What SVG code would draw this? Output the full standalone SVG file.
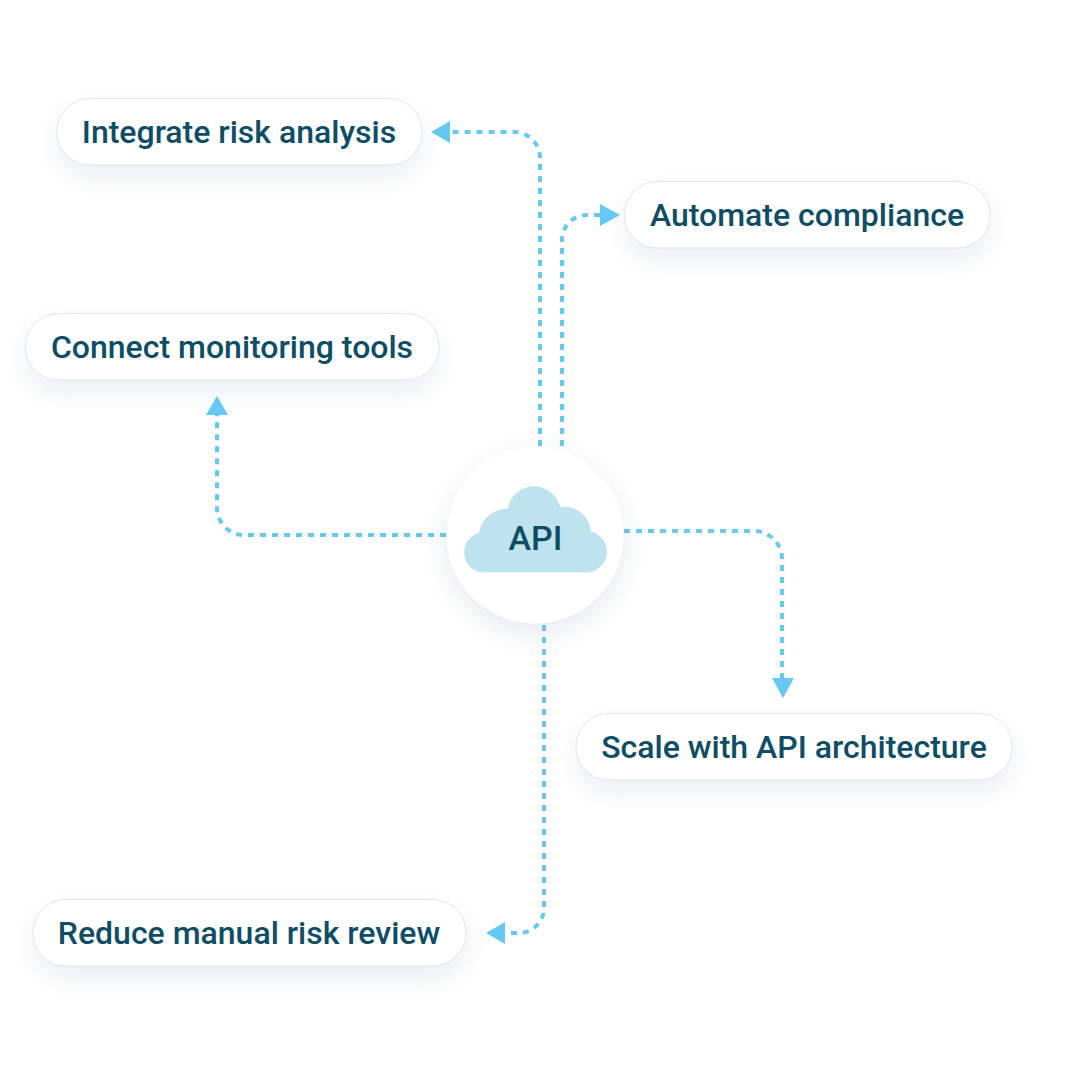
<svg xmlns="http://www.w3.org/2000/svg" width="1070" height="1070" viewBox="0 0 1070 1070">
<style>
.pill{fill:#fff;stroke:#dde5ee;stroke-width:1;filter:url(#sh)}
.t{font-family:Roboto,"Liberation Sans",sans-serif;font-weight:500;font-size:32px;fill:#0e4d64;text-anchor:middle}
.c{fill:none;stroke:#66c9f3;stroke-width:4;stroke-dasharray:6 6}
.a{fill:#66c9f3}
</style>
<defs>
<filter id="sh" x="-20%" y="-60%" width="140%" height="240%"><feDropShadow dx="0" dy="11" stdDeviation="13" flood-color="#8fa6c4" flood-opacity=".2"/></filter>
<filter id="shc" x="-30%" y="-30%" width="160%" height="160%"><feDropShadow dx="0" dy="9" stdDeviation="14" flood-color="#8fa6c4" flood-opacity=".25"/></filter>
</defs>
<rect width="1070" height="1070" fill="#fff"/>
<g id="connectors">
<path class="c" d="M540 446V158A26 26 0 0 0 514 132H450"/><polygon class="a" points="431,132 450,121 450,143"/>
<path class="c" d="M562 446V240A25 25 0 0 1 587 215H600"/><polygon class="a" points="620,215 600,204 600,226"/>
<path class="c" d="M446 535H244A27 27 0 0 1 217 508V415"/><polygon class="a" points="217,396 206,415 228,415"/>
<path class="c" d="M624 531H754A28 28 0 0 1 782 559V678"/><polygon class="a" points="783,698 772,678 794,678"/>
<path class="c" d="M544 625V908A25 25 0 0 1 519 933H505"/><polygon class="a" points="486,933 505,922 505,944"/>
</g>
<g id="n-integrate"><rect class="pill" x="57" y="98.500" width="365" height="66.500" rx="33"/><text class="t" x="239" y="143">Integrate risk analysis</text></g>
<g id="n-automate"><rect class="pill" x="624.500" y="181.500" width="365.500" height="66.500" rx="33"/><text class="t" x="807" y="226">Automate compliance</text></g>
<g id="n-connect"><rect class="pill" x="25.500" y="313.500" width="413.500" height="66.500" rx="33"/><text class="t" x="232" y="358">Connect monitoring tools</text></g>
<g id="n-scale"><rect class="pill" x="576" y="713.500" width="436" height="66.500" rx="33"/><text class="t" x="794" y="758">Scale with API architecture</text></g>
<g id="n-reduce"><rect class="pill" x="33" y="899.500" width="433" height="66.500" rx="33"/><text class="t" x="249" y="944">Reduce manual risk review</text></g>
<g id="n-api">
<circle cx="535" cy="535" r="88.500" fill="#fff" filter="url(#shc)"/>
<path fill="#bfe3ee" d="M484 572.500A20 20 0 0 1 464 552.500A20 20 0 0 1 479 533A29 29 0 0 1 508 508.500A26.500 26.500 0 0 1 560 507A27 27 0 0 1 591 531.600A21 21 0 0 1 607 552A21 21 0 0 1 586 572.500Z"/>
<text class="t" x="535.500" y="550" style="font-size:34px">API</text>
</g>
</svg>
